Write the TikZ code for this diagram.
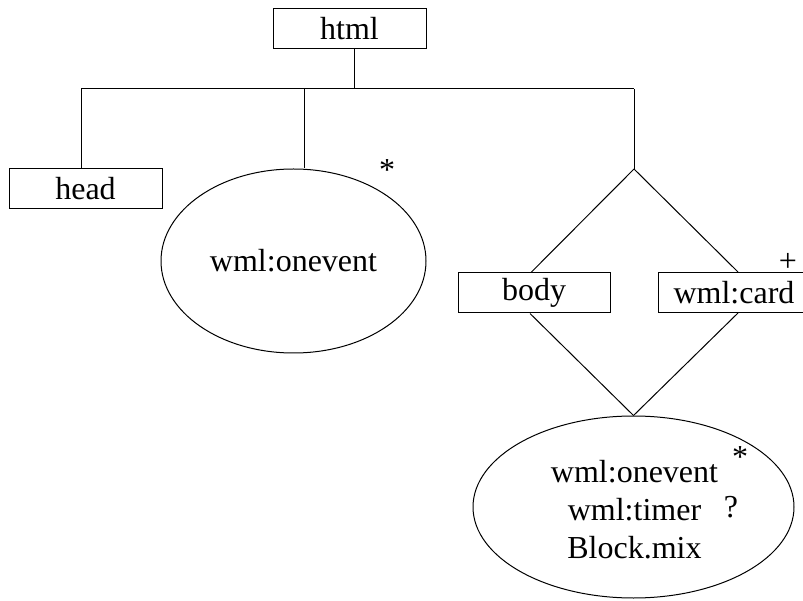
\documentclass[tikz,border=0pt]{standalone}
\usepackage{fontspec}
\setmainfont{Liberation Serif}
\usetikzlibrary{shapes.geometric}
\begin{document}
\begin{tikzpicture}[x=1pt,y=-1pt,
  every node/.style={font=\fontsize{32}{38}\selectfont, inner sep=0pt},
  conn/.style={draw=black, line width=1pt},
  boxnode/.style={draw=black, line width=1pt, rectangle, minimum width=153pt, minimum height=40pt},
  ellnode/.style={draw=black, line width=1pt, ellipse},
  marker/.style={anchor=base}]
\useasboundingbox (0,0) rectangle (803,601);
\fill[white] (0,0) rectangle (803,601);
% nodes
\node[boxnode] (html) at (349.5,29) {html};
\node[boxnode] (head) at (85.5,189) {head};
\node[ellnode, minimum width=265pt, minimum height=184pt] (ev1) at (293.5,261) {wml:onevent};
\node[boxnode, minimum width=152pt] (body) at (534,293) {body};
\node[boxnode, minimum width=152pt] (card) at (734,292.5) {wml:card};
\node[ellnode, minimum width=321pt, minimum height=182pt] (ev2) at (633.5,507) {};
\node[align=center] (ev2t) at (634.5,509.5) {wml:onevent\\wml:timer\\Block.mix};
% markers
\node[marker] (m1) at (387,181) {*};
\node[marker] (m2) at (788,272) {+};
\node[marker] (m3) at (740,467) {*};
\node[marker] (m4) at (731,517) {?};
% junction coordinates
\coordinate (j0) at (354,89);
\coordinate (hl) at (81,89);
\coordinate (hm) at (304,89);
\coordinate (hr) at (634,89);
\coordinate (jr) at (634,169);
\coordinate (bt) at (531,0);
\coordinate (ct) at (738,0);
\coordinate (bb) at (530,0);
% connectors
\draw[conn] (html.south -| j0) -- (j0);
\draw[conn] (hl) -- (hr);
\draw[conn] (hl) -- (head.north -| hl);
\draw[conn] (hm) -- (ev1.north -| hm);
\draw[conn] (hr) -- (jr);
\draw[conn] (jr) -- (body.north -| bt);
\draw[conn] (jr) -- (card.north -| ct);
\draw[conn] (body.south -| bb) -- (ev2.north);
\draw[conn] (card.south -| ct) -- (ev2.north);
\end{tikzpicture}
\end{document}
